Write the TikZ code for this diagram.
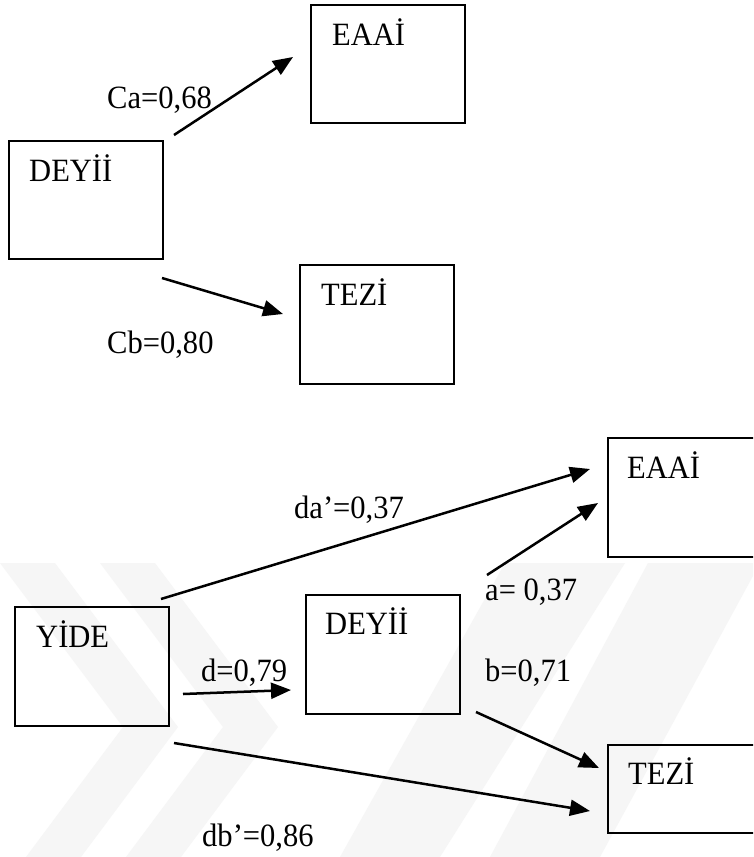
\documentclass[tikz,border=0pt]{standalone}
\usepackage{fontspec}
\setmainfont{Liberation Serif}[FakeStretch=0.94]
\usetikzlibrary{arrows.meta}
\definecolor{wm}{gray}{0.965}
\begin{document}
\begin{tikzpicture}[x=1pt,y=-1pt,
  box/.style={draw, line width=1.8pt, inner sep=0pt, minimum width=154pt, anchor=north west},
  lbl/.style={font=\fontsize{32.5}{39}\selectfont, inner sep=0pt, anchor=base west},
  arr/.style={line width=2.5pt, -{Triangle[length=20pt,width=16pt]}}]
\useasboundingbox (0,0) rectangle (753,857);
\clip (0,0) rectangle (753,857);
\fill[white] (0,0) rectangle (753,857);
% faint watermark
\fill[wm] (0,563) -- (55,563) -- (178,727) -- (81,857) -- (26,857) -- (123,727) -- cycle;
\fill[wm] (100,563) -- (155,563) -- (278,727) -- (181,857) -- (126,857) -- (223,727) -- cycle;
\fill[wm] (505,563) -- (625,563) -- (440,857) -- (340,857) -- cycle;
\fill[wm] (648,563) -- (760,563) -- (600,857) -- (490,857) -- cycle;
% ---- top diagram ----
\node[box, minimum height=118pt] (deyA) at (8,140) {};
\node[box, minimum height=118pt] (eaaA) at (310,4) {};
\node[box, minimum height=119pt] (tezA) at (299,264) {};
\node[lbl] (deyAt) at (29,181) {DEYİİ};
\node[lbl] (eaaAt) at (332,45) {EAAİ};
\node[lbl] (tezAt) at (321,305) {TEZİ};
\node[lbl] (ca) at (107,108) {Ca=0,68};
\node[lbl] (cb) at (107,353) {Cb=0,80};
\coordinate (caS) at (174,135);
\coordinate (caE) at (293,57);
\coordinate (cbS) at (162,278);
\coordinate (cbE) at (283,314);
\draw[arr] (caS) -- (caE);
\draw[arr] (cbS) -- (cbE);
% ---- bottom diagram ----
\node[box, minimum height=119pt] (yide) at (14,606) {};
\node[box, minimum height=119pt] (deyB) at (305,594) {};
\node[box, minimum height=119pt] (eaaB) at (607,437) {};
\node[box, minimum height=88pt] (tezB) at (607,744) {};
\node[lbl] (yidet) at (36,647) {YİDE};
\node[lbl] (deyBt) at (325,634) {DEYİİ};
\node[lbl] (eaaBt) at (627,478) {EAAİ};
\node[lbl] (tezBt) at (628,784) {TEZİ};
\node[lbl] (dal) at (294,518) {da’=0,37};
\node[lbl] (al) at (485,600) {a= 0,37};
\node[lbl] (dl) at (201,681) {d=0,79};
\node[lbl] (bl) at (485,681) {b=0,71};
\node[lbl] (dbl) at (202,846) {db’=0,86};
\coordinate (daS) at (161,599);
\coordinate (daE) at (590,469);
\coordinate (aS) at (487,575);
\coordinate (aE) at (598,503);
\coordinate (dS) at (183,694);
\coordinate (dE) at (291,690);
\coordinate (bS) at (476,712);
\coordinate (bE) at (599,768);
\coordinate (dbS) at (174,743);
\coordinate (dbE) at (590,811);
\draw[arr] (daS) -- (daE);
\draw[arr] (aS) -- (aE);
\draw[arr] (dS) -- (dE);
\draw[arr] (bS) -- (bE);
\draw[arr] (dbS) -- (dbE);
\end{tikzpicture}
\end{document}
